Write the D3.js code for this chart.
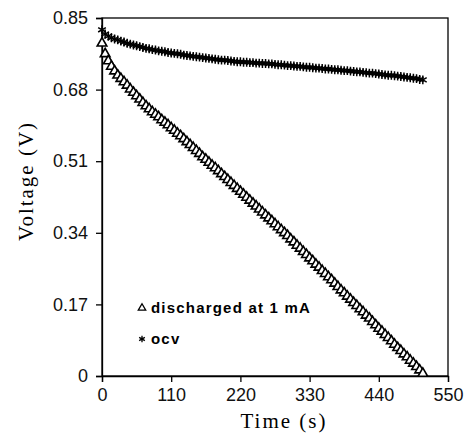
<!DOCTYPE html>
<html><head><meta charset="utf-8">
<script src="https://cdn.jsdelivr.net/npm/d3@7"></script>
<style>html,body{margin:0;padding:0;background:#fff;}</style>
</head><body>
<svg id="chart" width="469" height="440"></svg>
<script>
const times = [0,5,10,15,20,25,30,35,40,45,50,55,60,65,70,75,80,85,90,95,100,105,110,115,120,125,130,135,140,145,150,155,160,165,170,175,180,185,190,195,200,205,210,215,220,225,230,235,240,245,250,255,260,265,270,275,280,285,290,295,300,305,310,315,320,325,330,335,340,345,350,355,360,365,370,375,380,385,390,395,400,405,410,415,420,425,430,435,440,445,450,455,460,465,470,475,480,485,490,495,500,505,510];
const discharged = [.790,.765,.748,.735,.724,.714,.706,.698,.690,.681,.673,.665,.657,.649,.641,.634,.627,.621,.615,.608,.602,.596,.589,.583,.576,.570,.563,.556,.549,.542,.535,.528,.520,.514,.507,.500,.494,.487,.480,.473,.466,.459,.452,.445,.438,.431,.424,.417,.410,.403,.396,.389,.382,.375,.368,.361,.354,.347,.340,.333,.325,.318,.310,.303,.295,.288,.280,.273,.265,.258,.250,.243,.235,.228,.220,.212,.204,.197,.189,.182,.174,.167,.159,.152,.144,.137,.129,.121,.113,.106,.098,.091,.083,.075,.067,.060,.052,.045,.037,.030,.022,.014,.006];
const ocv = [.822,.812,.807,.803,.800,.798,.795,.793,.790,.788,.786,.784,.782,.780,.778,.777,.775,.774,.772,.771,.770,.768,.767,.766,.765,.764,.762,.761,.760,.759,.758,.757,.756,.755,.754,.753,.752,.751,.750,.750,.749,.748,.747,.746,.746,.745,.745,.744,.744,.743,.743,.742,.742,.741,.741,.740,.739,.739,.738,.737,.737,.736,.735,.735,.734,.733,.733,.732,.731,.731,.730,.729,.729,.728,.727,.727,.726,.725,.725,.724,.723,.722,.722,.721,.720,.719,.719,.718,.717,.716,.715,.714,.714,.713,.712,.711,.710,.709,.708,.707,.706,.704,.703];
const xTicks = [0,110,220,330,440,550];
const yTicks = [0,0.17,0.34,0.51,0.68,0.85];
const yTickLabels = ["0","0.17","0.34","0.51","0.68","0.85"];
const legendLabels = ["discharged at 1 mA","ocv"];

const svg = d3.select("#chart");
const L = 102, R = 448, T = 18, B = 376;
const x = d3.scaleLinear().domain([0,550]).range([L,R]);
const y = d3.scaleLinear().domain([0,0.85]).range([B,T]);

svg.append("rect").attr("x",L).attr("y",T).attr("width",R-L).attr("height",B-T)
  .attr("fill","none").attr("stroke","#000").attr("stroke-width",1.3);

const xAxis = svg.append("g").attr("transform",`translate(0,${B})`)
  .call(d3.axisBottom(x).tickValues(xTicks).tickSize(6).tickPadding(6).tickFormat(d3.format("d")));
const yAxis = svg.append("g").attr("transform",`translate(${L},0)`)
  .call(d3.axisLeft(y).tickValues(yTicks).tickSize(6).tickPadding(8).tickFormat((d,i)=>yTickLabels[i]));
[xAxis,yAxis].forEach(g=>{
  g.select(".domain").attr("stroke","#000").attr("stroke-width",1.3);
  g.selectAll(".tick line").attr("stroke","#000").attr("stroke-width",1.3);
  g.selectAll(".tick text").attr("fill","#111").style("font-family","'Liberation Sans', Arial, sans-serif").style("font-size","18px");
});

const tri = d3.symbol().type(d3.symbolTriangle).size(40);
const ast = d3.symbol().type(d3.symbolAsterisk).size(55);

svg.append("g").selectAll("path").data(times.map((t,i)=>[t,ocv[i]])).join("path")
  .attr("d",ast).attr("transform",d=>`translate(${x(d[0])},${y(d[1])})`)
  .attr("fill","none").attr("stroke","#000").attr("stroke-width",1.5);
svg.append("g").selectAll("path").data(times.map((t,i)=>[t,discharged[i]])).join("path")
  .attr("d",tri).attr("transform",d=>`translate(${x(d[0])},${y(d[1])})`)
  .attr("fill","#fff").attr("stroke","#000").attr("stroke-width",1.6);

svg.append("text").attr("x",284).attr("y",428).attr("text-anchor","middle")
  .style("font-family","'Liberation Serif','Times New Roman',serif").style("font-size","21px").style("letter-spacing","2px")
  .text("Time (s)");
svg.append("text").attr("transform","translate(33,181) rotate(-90)").attr("text-anchor","middle")
  .style("font-family","'Liberation Serif','Times New Roman',serif").style("font-size","21px").style("letter-spacing","2px")
  .text("Voltage (V)");

const leg = svg.append("g");
leg.append("path").attr("d",d3.symbol().type(d3.symbolTriangle).size(24)).attr("transform","translate(142,308)")
  .attr("fill","#fff").attr("stroke","#000").attr("stroke-width",1.3);
leg.append("path").attr("d",d3.symbol().type(d3.symbolAsterisk).size(30)).attr("transform","translate(142,339)")
  .attr("fill","none").attr("stroke","#000").attr("stroke-width",1.3);
leg.selectAll("text").data(legendLabels).join("text")
  .attr("x",151).attr("y",(d,i)=>313+i*31)
  .style("font-family","'Liberation Sans', Arial, sans-serif").style("font-size","15px").style("font-weight","bold").style("letter-spacing","1.2px")
  .text(d=>d);
</script>
</body></html>
